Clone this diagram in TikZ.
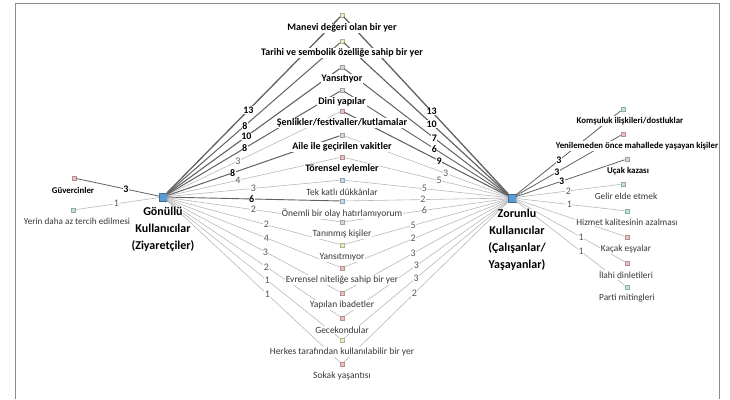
\documentclass[tikz,border=0pt]{standalone}
\usepackage{fontspec}
\setmainfont{Carlito}
\definecolor{hubblue}{HTML}{5B9BD5}
\definecolor{icy}{HTML}{ECECC0}
\definecolor{icg}{HTML}{D4D8DC}
\definecolor{icr}{HTML}{F0C0C0}
\definecolor{icb}{HTML}{C0DCEC}
\definecolor{ict}{HTML}{C0E4D8}
\tikzset{
 icon/.style={draw=#1!75!black, fill=#1, minimum width=4.5pt, minimum height=3.5pt, inner sep=0pt, line width=0.3pt},
 hub/.style={fill=hubblue, draw=hubblue!70!black, line width=0.3pt, minimum size=8pt, inner sep=0pt},
 hublab/.style={font=\bfseries\fontsize{12}{14}\selectfont, fill=white, inner sep=0pt},
 blab/.style={font=\bfseries\fontsize{10}{11}\selectfont, fill=white, inner sep=1pt},
 nlab/.style={font=\fontsize{9.5}{11}\selectfont, text=black!78, fill=white, inner sep=1pt},
 sblab/.style={font=\bfseries\fontsize{8.8}{10}\selectfont, fill=white, inner sep=1pt},
 snlab/.style={font=\fontsize{9.3}{10}\selectfont, text=black!78, fill=white, inner sep=1pt},
 strong/.style={draw=black!62, line width=#1},
 weak/.style={draw=black!28, line width=0.6pt},
 bnum/.style={font=\bfseries\fontsize{10}{11}\selectfont, fill=white, inner sep=0.4pt},
 nnum/.style={font=\fontsize{10}{11}\selectfont, text=black!65, fill=white, inner sep=0.4pt},
}
\begin{document}
\begin{tikzpicture}[x=1pt,y=-1pt]
\useasboundingbox (0,0) rectangle (730,399);
\draw[black!45, line width=0.6pt] (15,399) -- (15,3) -- (719,3) -- (719,399);
% hubs
\node[hub] (L) at (163,197) {};
\node[hub] (R) at (512,198) {};
% middle icons
\node[icon=icy] (m1) at (342,15) {};
\node[icon=icy] (m2) at (342,41) {};
\node[icon=icg] (m3) at (342,67) {};
\node[icon=icg] (m4) at (342,90) {};
\node[icon=icr] (m5) at (342,111) {};
\node[icon=icg] (m6) at (342,135) {};
\node[icon=icr] (m7) at (342,157) {};
\node[icon=icb] (m8) at (342,180) {};
\node[icon=icb] (m9) at (342,201) {};
\node[icon=icg] (m10) at (342,222) {};
\node[icon=icy] (m11) at (342,245) {};
\node[icon=icr] (m12) at (342,268) {};
\node[icon=icr] (m13) at (342,293) {};
\node[icon=icr] (m14) at (342,318) {};
\node[icon=icy] (m15) at (342,340) {};
\node[icon=icr] (m16) at (342,364) {};
% side icons
\node[icon=icr] (g1) at (74,178) {};
\node[icon=ict] (g2) at (73,210) {};
\node[icon=ict] (r1) at (623,109) {};
\node[icon=icr] (r2) at (623,134) {};
\node[icon=icg] (r3) at (627,159) {};
\node[icon=ict] (r4) at (623,184) {};
\node[icon=ict] (r5) at (627,211) {};
\node[icon=icr] (r6) at (627,237) {};
\node[icon=icr] (r7) at (627,263) {};
\node[icon=ict] (r8) at (627,287) {};
% left edges
\draw[strong=1.3pt] (L) -- node[bnum,pos=0.47]{13} (m1);
\draw[strong=1.0pt] (L) -- node[bnum,pos=0.45]{8} (m2);
\draw[strong=1.1pt] (L) -- node[bnum,pos=0.46]{10} (m3);
\draw[strong=1.0pt] (L) -- node[bnum,pos=0.45]{8} (m4);
\draw[weak] (L) -- node[nnum,pos=0.41]{3} (m5);
\draw[strong=1.0pt] (L) -- node[bnum,pos=0.38]{8} (m6);
\draw[weak] (L) -- node[nnum,pos=0.41]{4} (m7);
\draw[weak] (L) -- node[nnum,pos=0.50]{3} (m8);
\draw[strong=0.9pt] (L) -- node[bnum,pos=0.49]{6} (m9);
\draw[weak] (L) -- node[nnum,pos=0.50]{2} (m10);
\draw[weak] (L) -- node[nnum,pos=0.575]{2} (m11);
\draw[weak] (L) -- node[nnum,pos=0.575]{4} (m12);
\draw[weak] (L) -- node[nnum,pos=0.57]{3} (m13);
\draw[weak] (L) -- node[nnum,pos=0.575]{2} (m14);
\draw[weak] (L) -- node[nnum,pos=0.58]{1} (m15);
\draw[weak] (L) -- node[nnum,pos=0.58]{1} (m16);
% right edges
\draw[strong=1.3pt] (R) -- node[bnum,pos=0.465]{13} (m1);
\draw[strong=1.15pt] (R) -- node[bnum,pos=0.465]{10} (m2);
\draw[strong=1.0pt] (R) -- node[bnum,pos=0.45]{7} (m3);
\draw[strong=0.9pt] (R) -- node[bnum,pos=0.45]{6} (m4);
\draw[strong=1.05pt] (R) -- node[bnum,pos=0.42]{9} (m5);
\draw[weak] (R) -- node[nnum,pos=0.38]{3} (m6);
\draw[weak] (R) -- node[nnum,pos=0.42]{5} (m7);
\draw[weak] (R) -- node[nnum,pos=0.51]{5} (m8);
\draw[weak] (R) -- node[nnum,pos=0.52]{2} (m9);
\draw[weak] (R) -- node[nnum,pos=0.51]{6} (m10);
\draw[weak] (R) -- node[nnum,pos=0.58]{5} (m11);
\draw[weak] (R) -- node[nnum,pos=0.58]{2} (m12);
\draw[weak] (R) -- node[nnum,pos=0.58]{3} (m13);
\draw[weak] (R) -- node[nnum,pos=0.56]{3} (m14);
\draw[weak] (R) -- node[nnum,pos=0.56]{3} (m15);
\draw[weak] (R) -- node[nnum,pos=0.57]{2} (m16);
% side edges
\draw[strong=0.8pt] (L) -- node[bnum,pos=0.40]{3} (g1);
\draw[weak] (L) -- node[nnum,pos=0.51]{1} (g2);
\draw[strong=0.8pt] (R) -- node[bnum,pos=0.41]{3} (r1);
\draw[strong=0.8pt] (R) -- node[bnum,pos=0.39]{3} (r2);
\draw[strong=0.8pt] (R) -- node[bnum,pos=0.42]{3} (r3);
\draw[weak] (R) -- node[nnum,pos=0.5]{2} (r4);
\draw[weak] (R) -- node[nnum,pos=0.49]{1} (r5);
\draw[weak] (R) -- (r6);
\draw[weak] (R) -- node[nnum,pos=0.6]{1} (r7);
\draw[weak] (R) -- node[nnum,pos=0.6]{1} (r8);
% middle labels
\node[blab] (t1) at (342,28) {Manevi değeri olan bir yer};
\node[blab] (t2) at (342,53) {Tarihi ve sembolik özelliğe sahip bir yer};
\node[blab] (t3) at (342,79) {Yansıtıyor};
\node[blab] (t4) at (342,102) {Dini yapılar};
\node[blab] (t5) at (342,123) {Şenlikler/festivaller/kutlamalar};
\node[blab] (t6) at (342,147) {Aile ile geçirilen vakitler};
\node[blab] (t7) at (342,169) {Törensel eylemler};
\node[nlab] (t8) at (342,192) {Tek katlı dükkânlar};
\node[nlab] (t9) at (342,213) {Önemli bir olay hatırlamıyorum};
\node[nlab] (t10) at (342,234) {Tanınmış kişiler};
\node[nlab] (t11) at (342,257) {Yansıtmıyor};
\node[nlab] (t12) at (342,280) {Evrensel niteliğe sahip bir yer};
\node[nlab] (t13) at (342,305) {Yapılan ibadetler};
\node[nlab] (t14) at (342,330) {Gecekondular};
\node[nlab] (t15) at (342,352) {Herkes tarafından kullanılabilir bir yer};
\node[nlab] (t16) at (342,376) {Sokak yaşantısı};
% side labels
\node[sblab] (u1) at (73,190) {Güvercinler};
\node[nlab, font=\fontsize{9.2}{11}\selectfont, inner sep=0.5pt] (u2) at (77,221) {Yerin daha az tercih edilmesi};
\node[sblab] (v1) at (630,121) {Komşuluk ilişkileri/dostluklar};
\node[sblab] (v2) at (637,146) {Yenilemeden önce mahallede yaşayan kişiler};
\node[sblab] (v3) at (628,171) {Uçak kazası};
\node[snlab] (v4) at (626,196) {Gelir elde etmek};
\node[snlab] (v5) at (627,222) {Hizmet kalitesinin azalması};
\node[snlab] (v6) at (626,249) {Kaçak eşyalar};
\node[snlab] (v7) at (626,275) {İlahi dinletileri};
\node[snlab] (v8) at (627,298) {Parti mitingleri};
% hub labels
\node[hublab] (hl1) at (163,211) {Gönüllü};
\node[hublab] (hl2) at (163,228.5) {Kullanıcılar};
\node[hublab] (hl3) at (163,246) {(Ziyaretçiler)};
\node[hublab] (hr1) at (517,213) {Zorunlu};
\node[hublab] (hr2) at (517,230.5) {Kullanıcılar};
\node[hublab] (hr3) at (517,248) {(Çalışanlar/};
\node[hublab] (hr4) at (517,265.5) {Yaşayanlar)};
\end{tikzpicture}
\end{document}
